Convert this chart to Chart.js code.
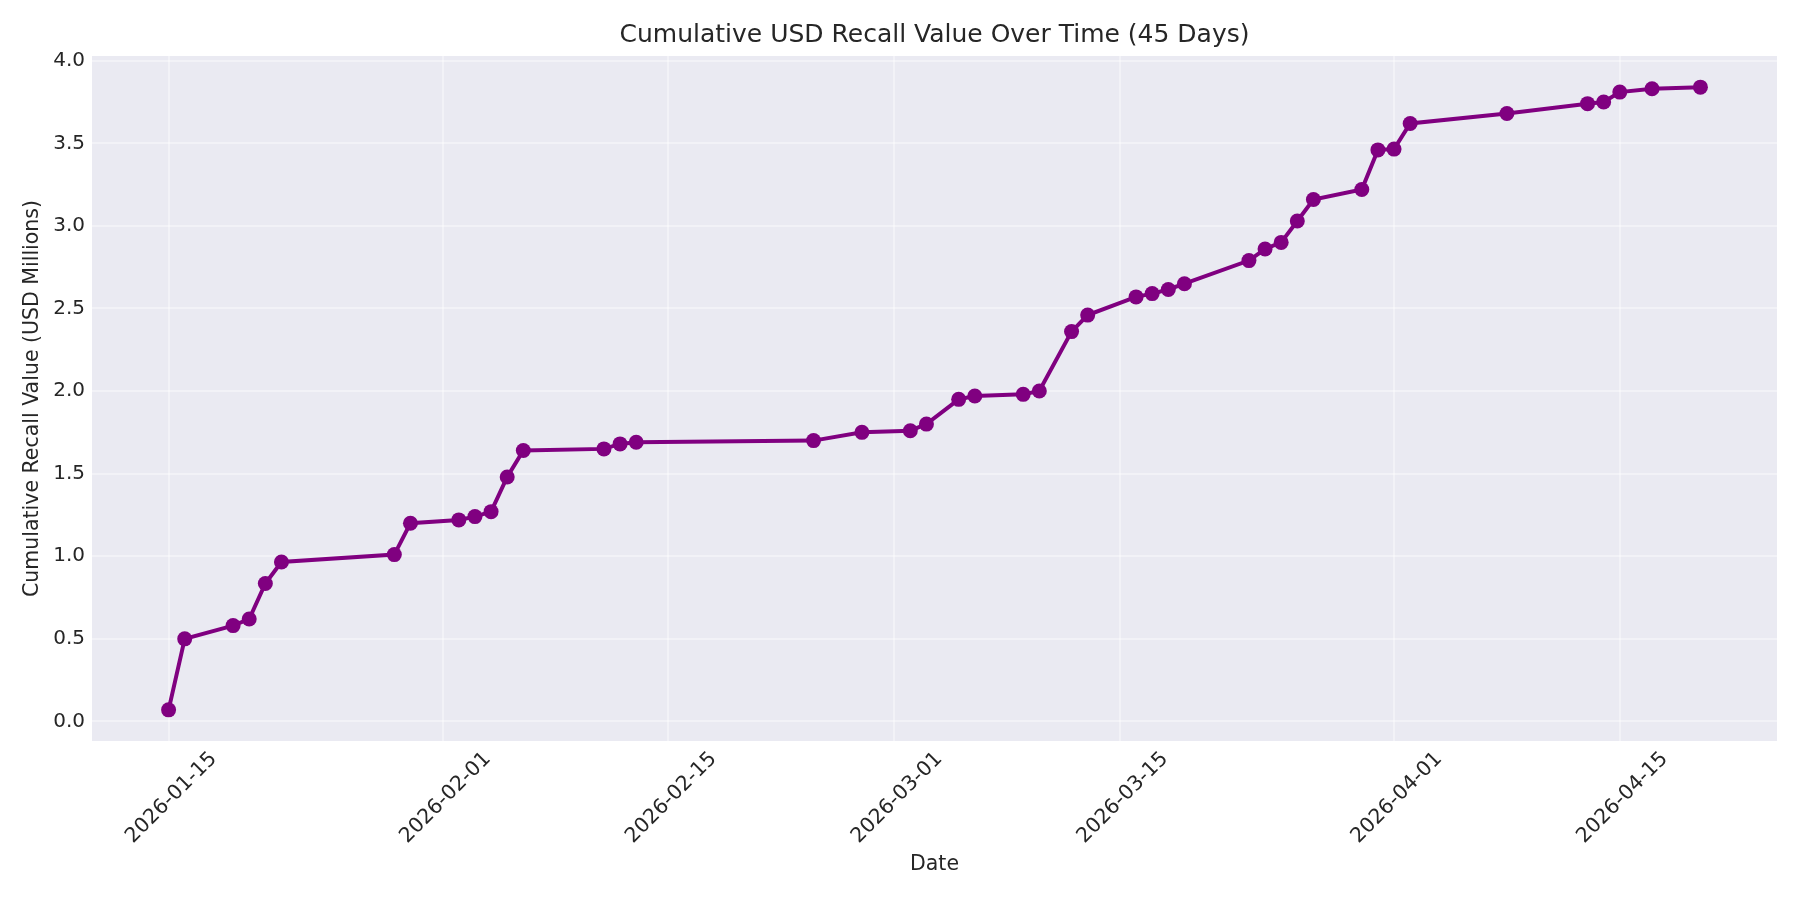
<!DOCTYPE html>
<html>
<head>
<meta charset="utf-8">
<script src="https://cdn.jsdelivr.net/npm/chart.js@4.4.1/dist/chart.umd.min.js"></script>
<style>
  html, body { margin: 0; padding: 0; background: #fff; }
  #wrap { width: 1800px; height: 900px; }
</style>
</head>
<body>
<div id="wrap"><canvas id="recallChart" width="1800" height="900"></canvas></div>
<script>
// Cumulative USD recall value, one point per recall day

const dates = [
  '2026-01-15', '2026-01-16', '2026-01-19', '2026-01-20', '2026-01-21', '2026-01-22',
  '2026-01-29', '2026-01-30', '2026-02-02', '2026-02-03', '2026-02-04', '2026-02-05',
  '2026-02-06', '2026-02-11', '2026-02-12', '2026-02-13', '2026-02-24', '2026-02-27',
  '2026-03-02', '2026-03-03', '2026-03-05', '2026-03-06', '2026-03-09', '2026-03-10',
  '2026-03-12', '2026-03-13', '2026-03-16', '2026-03-17', '2026-03-18', '2026-03-19',
  '2026-03-23', '2026-03-24', '2026-03-25', '2026-03-26', '2026-03-27', '2026-03-30',
  '2026-03-31', '2026-04-01', '2026-04-02', '2026-04-08', '2026-04-13', '2026-04-14',
  '2026-04-15', '2026-04-17', '2026-04-20',
];

const cumulativeMillions = [
  0.07, 0.50, 0.58, 0.62, 0.835, 0.965,
  1.01, 1.20, 1.22, 1.24, 1.27, 1.48,
  1.64, 1.65, 1.68, 1.69, 1.70, 1.75,
  1.76, 1.80, 1.95, 1.97, 1.98, 2.00,
  2.36, 2.46, 2.57, 2.59, 2.615, 2.65,
  2.79, 2.86, 2.90, 3.03, 3.16, 3.22,
  3.46, 3.465, 3.62, 3.68, 3.74, 3.75,
  3.81, 3.83, 3.84,
];

const xTickLabels = ['2026-01-15', '2026-02-01', '2026-02-15', '2026-03-01', '2026-03-15', '2026-04-01', '2026-04-15'];
const yTickValues = [0.0, 0.5, 1.0, 1.5, 2.0, 2.5, 3.0, 3.5, 4.0];

const TITLE = 'Cumulative USD Recall Value Over Time (45 Days)';
const PURPLE = '#800080';
const TEXT = '#262626';
const FONT = "'DejaVu Sans', sans-serif";
const GRID = 'rgba(255,255,255,0.4)';

const DAY = 86400000;
const toDay = s => Date.parse(s + 'T00:00:00Z') / DAY;

const points = dates.map((d, i) => ({ x: toDay(d), y: cumulativeMillions[i] }));

// matplotlib-style 5% margins
const xs = points.map(p => p.x);
const xPad = (Math.max(...xs) - Math.min(...xs)) * 0.05;
const yPad = (Math.max(...cumulativeMillions) - Math.min(...cumulativeMillions)) * 0.05;

const plotBackground = {
  id: 'plotBackground',
  beforeDraw(chart) {
    const { ctx, chartArea: a } = chart;
    ctx.save();
    ctx.fillStyle = '#eaeaf2';
    ctx.fillRect(a.left, a.top, a.right - a.left, a.bottom - a.top);
    ctx.restore();
  },
};

// title centred over the plot area (not the whole canvas), like matplotlib
const axesTitle = {
  id: 'axesTitle',
  afterDraw(chart) {
    const { ctx, chartArea: a } = chart;
    ctx.save();
    ctx.fillStyle = TEXT;
    ctx.font = `25px ${FONT}`;
    ctx.textAlign = 'center';
    ctx.textBaseline = 'middle';
    ctx.fillText(TITLE, (a.left + a.right) / 2, 35);
    ctx.restore();
  },
};

new Chart(document.getElementById('recallChart'), {
  type: 'line',
  data: {
    datasets: [{
      label: 'Cumulative Recall Value',
      data: points,
      borderColor: PURPLE,
      backgroundColor: PURPLE,
      borderWidth: 4,
      tension: 0,
      pointRadius: 7.5,
      pointHoverRadius: 7.5,
      pointBackgroundColor: PURPLE,
      pointBorderWidth: 0,
      fill: false,
    }],
  },
  options: {
    responsive: false,
    devicePixelRatio: 1,
    animation: false,
    layout: { padding: { left: 0, right: 23, top: 56, bottom: 0 } },
    plugins: {
      legend: { display: false },
      tooltip: { enabled: false },
      title: { display: false },
    },
    scales: {
      x: {
        type: 'linear',
        min: Math.min(...xs) - xPad,
        max: Math.max(...xs) + xPad,
        afterBuildTicks: scale => {
          scale.ticks = xTickLabels.map(t => ({ value: toDay(t) }));
        },
        afterFit: scale => { scale.height = 159; },
        ticks: {
          color: TEXT,
          font: { family: FONT, size: 20.5 },
          minRotation: 45,
          maxRotation: 45,
          autoSkip: false,
          padding: 6,
          labelOffset: 45,
          callback: v => xTickLabels.find(t => toDay(t) === v) || '',
        },
        grid: { color: GRID, lineWidth: 2, drawTicks: false },
        border: { display: false },
        title: {
          display: true,
          text: 'Date',
          color: TEXT,
          font: { family: FONT, size: 20.5 },
          padding: { top: 0, bottom: 23 },
        },
      },
      y: {
        min: Math.min(...cumulativeMillions) - yPad,
        max: Math.max(...cumulativeMillions) + yPad,
        afterBuildTicks: scale => {
          scale.ticks = yTickValues.map(v => ({ value: v }));
        },
        afterFit: scale => { scale.width = 92; },
        ticks: {
          color: TEXT,
          font: { family: FONT, size: 20 },
          padding: 7,
          callback: v => v.toFixed(1),
        },
        grid: { color: GRID, lineWidth: 2, drawTicks: false },
        border: { display: false },
        title: {
          display: true,
          text: 'Cumulative Recall Value (USD Millions)',
          color: TEXT,
          font: { family: FONT, size: 20.5 },
          padding: { top: 20, bottom: 0 },
        },
      },
    },
  },
  plugins: [plotBackground, axesTitle],
});
</script>
</body>
</html>
